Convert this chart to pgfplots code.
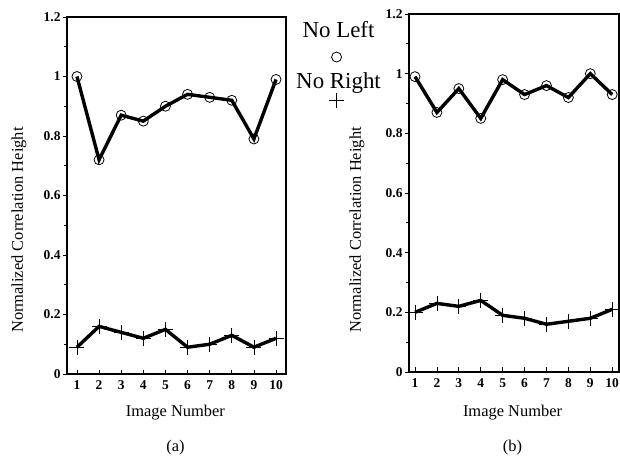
\documentclass[border=0pt]{standalone}
\usepackage{fontspec}
\setmainfont{Liberation Serif}
\usepackage{pgfplots}
\pgfplotsset{compat=1.18}
\begin{document}
\begin{tikzpicture}
\useasboundingbox (0,0) rectangle (620bp,458bp);
\pgfplotsset{
  myaxis/.style={
    scale only axis,
    anchor=south west,
    clip mode=individual,
    ymin=0, ymax=1.2,
    xtick={1,...,10},
    xticklabels={1,2,3,4,5,6,7,8,9,10},
    ytick={0,0.2,0.4,0.6,0.8,1,1.2},
    yticklabels={0,0.2,0.4,0.6,0.8,1,1.2},
    minor y tick num=1,
    axis line style={line width=1.3bp},
    x tick style={line width=0.8bp, black},
    y tick style={line width=0.8bp, black},
    xtick align=inside,
    ytick align=outside,
    xtick pos=bottom,
    ytick pos=left,
    major tick length=4.5bp,
    minor tick length=3bp,
    xticklabel style={font=\fontsize{13.5}{15}\selectfont\bfseries, yshift=-3bp},
    yticklabel style={font=\fontsize{13.5}{15}\selectfont\bfseries, xshift=1.5bp},
    /pgf/number format/assume math mode=true,
    label style={font=\fontsize{16.5}{18}\selectfont},
  },
  leftser/.style={black, line width=3.4bp, mark=o, mark size=5bp, mark options={line width=0.8bp, solid}},
  rightser/.style={black, line width=3.4bp, mark=+, mark size=7.5bp, mark options={line width=0.8bp, solid}},
}
\begin{axis}[myaxis,
  at={(67bp,84bp)}, width=219bp, height=357bp,
  xmin=0.55, xmax=10.45,
  xlabel={Image Number},
  xlabel style={at={(axis description cs:0.495,-0.109)}, anchor=center},
  ylabel={Normalized Correlation Height},
  ylabel style={at={(axis description cs:-0.219,0.403)}, anchor=center},
  legend style={at={(axis description cs:1.24,0.994)}, anchor=north, draw=none, fill=none,
    inner sep=0pt, column sep=0pt, row sep=30pt,
    nodes={inner sep=2pt}, font=\fontsize{23}{26}\selectfont},
  legend cell align=center,
]
\addplot[leftser, legend image code/.code={\draw[overlay,black,mark=o,mark size=5bp,mark options={line width=0.8bp}] plot coordinates {(42.5pt,-27pt)};}]
  coordinates {(1,1.00) (2,0.72) (3,0.87) (4,0.85) (5,0.90) (6,0.94) (7,0.93) (8,0.92) (9,0.79) (10,0.99)};
\addlegendentry{No Left}
\addplot[rightser, legend image code/.code={\draw[overlay,black,mark=+,mark size=7.5bp,mark options={line width=0.8bp}] plot coordinates {(42.5pt,-19.4pt)};}]
  coordinates {(1,0.09) (2,0.16) (3,0.14) (4,0.12) (5,0.15) (6,0.09) (7,0.10) (8,0.13) (9,0.09) (10,0.12)};
\addlegendentry{No Right}
\node[font=\fontsize{16.5}{18}\selectfont] at (axis description cs:0.495,-0.207) {(a)};
\end{axis}
\begin{axis}[myaxis,
  at={(409bp,86bp)}, width=210bp, height=358bp,
  xmin=0.726, xmax=10.31,
  xlabel={Image Number},
  xlabel style={at={(axis description cs:0.493,-0.114)}, anchor=center},
  ylabel={Normalized Correlation Height},
  ylabel style={at={(axis description cs:-0.248,0.397)}, anchor=center},
]
\addplot[leftser]
  coordinates {(1,0.99) (2,0.87) (3,0.95) (4,0.85) (5,0.98) (6,0.93) (7,0.96) (8,0.92) (9,1.00) (10,0.93)};
\addplot[rightser]
  coordinates {(1,0.20) (2,0.23) (3,0.22) (4,0.24) (5,0.19) (6,0.18) (7,0.16) (8,0.17) (9,0.18) (10,0.21)};
\node[font=\fontsize{16.5}{18}\selectfont] at (axis description cs:0.493,-0.212) {(b)};
\end{axis}
\end{tikzpicture}
\end{document}
